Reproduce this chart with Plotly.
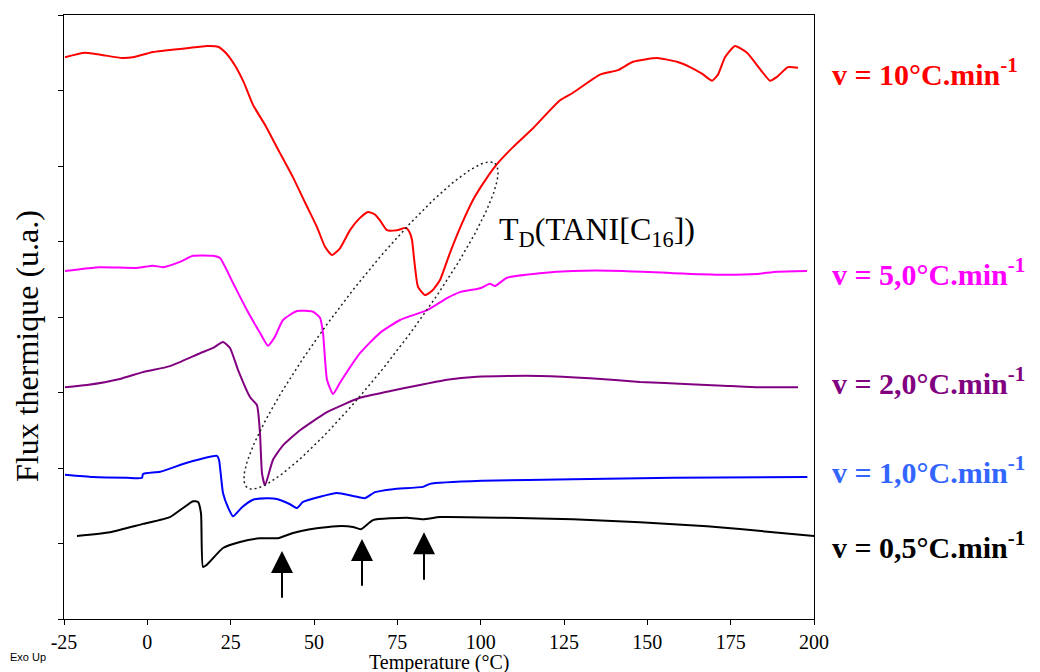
import numpy as np
import plotly.graph_objects as go

# ---------------- data ----------------
T_10 = [-24.7, -18.7, -7.6, -4.3, 1.7, 11.9, 17.9, 21.2, 23.5, 26.3, 29.0, 31.7, 35.5, 39.2, 43.7, 47.5, 50.9,
        53.3, 55.4, 57.8, 60.8, 63.5, 66.2, 68.2, 69.8, 71.9, 74.9, 77.6, 78.8, 79.4, 80.2, 81.2, 83.3,
        85.5, 87.8, 90.8, 94.0, 97.7, 101.5, 105.2, 109.7, 115.7, 123.8, 127.7, 135.8, 141.2, 145.7,
        152.9, 158.9, 162.8, 166.5, 169.4, 171.2, 173.3, 176.3, 179.9, 184.4, 186.8, 188.9, 192.2, 195.2]
F_10 = [7.44, 7.50, 7.43, 7.44, 7.51, 7.56, 7.59, 7.58, 7.50, 7.33, 7.10, 6.81, 6.53, 6.22, 5.85, 5.50, 5.19,
        4.93, 4.82, 4.91, 5.15, 5.30, 5.39, 5.36, 5.28, 5.15, 5.15, 5.18, 5.11, 5.02, 4.70, 4.40, 4.29,
        4.35, 4.49, 4.85, 5.20, 5.55, 5.82, 6.04, 6.25, 6.50, 6.87, 6.97, 7.21, 7.27, 7.38,
        7.43, 7.38, 7.31, 7.22, 7.13, 7.21, 7.44, 7.59, 7.50, 7.25, 7.13, 7.18, 7.31, 7.30]

T_5 = [-24.7, -14.2, -3.1, 1.7, 4.7, 9.8, 13.7, 19.7, 21.8, 25.7, 29.9, 33.8, 36.2, 38.3, 40.7, 44.9,
       49.7, 51.8, 52.7, 53.9, 55.7, 57.8, 63.8, 69.8, 75.8, 83.9, 89.9, 93.8, 99.8, 102.8, 104.3,
       107.9, 117.8, 127.7, 142.7, 157.7, 172.7, 182.9, 188.9, 197.9]
F_5 = [4.61, 4.66, 4.65, 4.68, 4.66, 4.73, 4.81, 4.81, 4.78, 4.45, 4.09, 3.79, 3.62, 3.74, 3.96, 4.08,
       4.07, 3.99, 3.79, 3.17, 2.98, 3.13, 3.52, 3.79, 3.96, 4.09, 4.25, 4.33, 4.38, 4.44, 4.41,
       4.52, 4.58, 4.61, 4.61, 4.58, 4.56, 4.57, 4.60, 4.61]

T_2 = [-24.7, -18.1, -8.2, -1.3, 6.8, 15.8, 19.7, 22.7, 24.8, 27.2, 30.8, 32.9, 33.8, 34.4, 35.3, 37.7,
       40.7, 45.8, 53.9, 63.8, 71.9, 81.8, 89.9, 98.9, 107.9, 117.8, 132.8, 147.8, 162.8, 172.7, 182.9, 195.2]
F_2 = [3.07, 3.10, 3.18, 3.27, 3.35, 3.52, 3.59, 3.67, 3.59, 3.30, 2.94, 2.83, 2.46, 1.93, 1.77, 2.11,
       2.30, 2.50, 2.74, 2.93, 3.01, 3.10, 3.17, 3.21, 3.22, 3.22, 3.19, 3.14, 3.11, 3.09, 3.07, 3.07]

T_1 = [-24.7, -16.3, -6.1, -1.6, -1.3, 3.8, 11.9, 20.9, 21.5, 22.7, 24.2, 25.7, 28.4, 31.7, 35.9, 38.9,
       42.8, 44.9, 46.7, 51.8, 56.9, 61.7, 65.3, 68.3, 73.7, 82.7, 84.8, 100.4, 127.7, 157.7, 198.0]
F_1 = [1.91, 1.88, 1.87, 1.87, 1.92, 1.95, 2.07, 2.16, 2.11, 1.67, 1.48, 1.36, 1.48, 1.58, 1.60, 1.59,
       1.52, 1.47, 1.55, 1.62, 1.67, 1.63, 1.60, 1.68, 1.72, 1.75, 1.79, 1.83, 1.85, 1.87, 1.88]

T_05 = [-21.1, -11.2, -1.3, 6.8, 10.7, 13.7, 15.2, 16.1, 16.7, 17.9, 22.7, 27.8, 33.8, 39.2, 43.7, 48.8,
        56.9, 61.7, 64.1, 67.7, 77.9, 82.7, 87.8, 107.9, 127.7, 147.8, 167.9, 187.7, 200.0]
F_05 = [1.10, 1.15, 1.26, 1.35, 1.47, 1.56, 1.55, 1.40, 0.69, 0.72, 0.94, 1.02, 1.07, 1.07, 1.14, 1.19,
        1.23, 1.22, 1.19, 1.31, 1.34, 1.32, 1.35, 1.34, 1.32, 1.28, 1.23, 1.15, 1.10]

x_ticks = [-25, 0, 25, 50, 75, 100, 125, 150, 175, 200]
x_tick_text = ["-25", "0", "25", "50", "75", "100", "125", "150", "175", "200"]

rate_labels = ["v = 10°C.min<sup>-1</sup>", "v = 5,0°C.min<sup>-1</sup>", "v = 2,0°C.min<sup>-1</sup>",
               "v = 1,0°C.min<sup>-1</sup>", "v = 0,5°C.min<sup>-1</sup>"]
rate_label_y = [7.24, 4.60, 3.15, 1.97, 0.98]

arrow_T = [40.4, 64.4, 83.0]
arrow_tip = [0.90, 1.06, 1.15]
arrow_tail = [0.26, 0.42, 0.50]

# ---------------- styles ----------------
curve_colors = ["#FF0000", "#FF00FF", "#800080", "#0000FF", "#000000"]
label_colors = ["#FF0000", "#FF00FF", "#800080", "#3366FF", "#000000"]
SERIF = "Liberation Serif, Times New Roman, serif"

W, H = 1040, 672
ML, MR, MT, MB = 64, 226, 15, 53
XR = [-25, 200]
YR = [0, 8]

fig = go.Figure()
series = [(T_10, F_10), (T_5, F_5), (T_2, F_2), (T_1, F_1), (T_05, F_05)]
for (tx, fy), col in zip(series, curve_colors):
    fig.add_trace(go.Scatter(x=tx, y=fy, mode="lines",
                             line=dict(color=col, width=2, shape="spline", smoothing=0.5),
                             showlegend=False, hoverinfo="skip"))

# dotted ellipse (defined in pixel space, converted to data space)
pw, ph = W - ML - MR, H - MT - MB
sx, sy = pw / (XR[1] - XR[0]), ph / (YR[1] - YR[0])
cx_px, cy_px = 371.0 - ML, 325.5 - MT
ux, uy = 0.607, -0.795
nx, ny = 0.795, 0.607
a_px, b_px = 204.0, 36.0
t = np.linspace(0, 2 * np.pi, 300)
ex = cx_px + a_px * np.cos(t) * ux + b_px * np.sin(t) * nx
ey = cy_px + a_px * np.cos(t) * uy + b_px * np.sin(t) * ny
fig.add_trace(go.Scatter(x=XR[0] + ex / sx, y=YR[1] - ey / sy, mode="lines",
                         line=dict(color="#222222", width=1.5, dash="2px,3px"),
                         showlegend=False, hoverinfo="skip"))

annotations = []
for txt, yv, col in zip(rate_labels, rate_label_y, label_colors):
    annotations.append(dict(text="<b>" + txt + "</b>", xref="paper", x=(830 - ML) / pw, xanchor="left",
                            yref="y", y=yv, yanchor="middle", showarrow=False,
                            font=dict(family=SERIF, size=30, color=col)))
for xa, tip, tail in zip(arrow_T, arrow_tip, arrow_tail):
    annotations.append(dict(text="", x=xa, y=tip, ax=xa, ay=tail, xref="x", yref="y",
                            axref="x", ayref="y", showarrow=True, arrowhead=2, arrowsize=2.2,
                            arrowwidth=2, arrowcolor="black", standoff=0, startstandoff=0))
annotations.append(dict(text="T<sub>D</sub>(TANI[C<sub>16</sub>])", x=104.9, y=5.13, xref="x", yref="y",
                        xanchor="left", yanchor="middle", showarrow=False,
                        font=dict(family=SERIF, size=32, color="black")))
annotations.append(dict(text="Flux thermique (u.a.)", xref="paper", yref="paper",
                        x=(27 - ML) / pw, y=(H - MB - 346) / ph, textangle=-90,
                        xanchor="center", yanchor="middle", showarrow=False,
                        font=dict(family=SERIF, size=32, color="black")))
annotations.append(dict(text="Temperature (°C)", xref="paper", yref="paper",
                        x=0.5, y=(H - MB - 662) / ph, xanchor="center", yanchor="middle",
                        showarrow=False, font=dict(family=SERIF, size=20, color="black")))
annotations.append(dict(text="Exo Up", xref="paper", yref="paper",
                        x=(8 - ML) / pw, y=(H - MB - 657) / ph, xanchor="left", yanchor="middle",
                        showarrow=False, font=dict(family="Liberation Sans, Arial, sans-serif", size=11,
                                                   color="black")))

fig.update_layout(
    width=W, height=H, autosize=False,
    margin=dict(l=ML, r=MR, t=MT, b=MB, pad=0, autoexpand=False),
    paper_bgcolor="white", plot_bgcolor="white",
    showlegend=False,
    annotations=annotations,
    xaxis=dict(range=XR, tickvals=x_ticks, ticktext=x_tick_text, ticks="outside", ticklen=5, tickwidth=1,
               tickcolor="black", showline=True, linecolor="black", linewidth=1, mirror=True,
               showgrid=False, zeroline=False, automargin=False,
               tickfont=dict(family=SERIF, size=20, color="black")),
    yaxis=dict(range=YR, dtick=1, tick0=0, ticks="outside", ticklen=5, tickwidth=1, tickcolor="black",
               showticklabels=False, showline=True, linecolor="black", linewidth=1, mirror=True,
               showgrid=False, zeroline=False, automargin=False),
)

fig.write_html("out.html", config={"displayModeBar": False},
               post_script="document.body.style.margin='0';document.body.style.overflow='hidden';")
